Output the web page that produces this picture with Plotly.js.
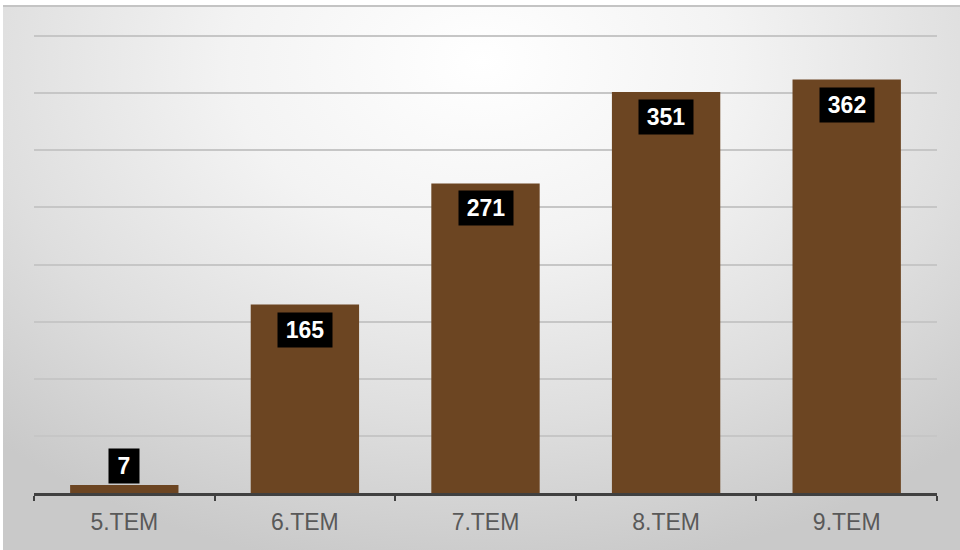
<!DOCTYPE html>
<html>
<head>
<meta charset="utf-8">
<script src="https://cdn.plot.ly/plotly-3.0.1.min.js"></script>
<style>
  html, body { margin: 0; padding: 0; background: #ffffff; }
  #wrap { position: relative; width: 960px; height: 550px; overflow: hidden; background: #ffffff; }
  #bg { position: absolute; left: 3px; top: 5px; right: 0; bottom: 0;
        border-top: 2px solid #c4c4c4;
        background: radial-gradient(ellipse 75% 95% at 50% 10%, #ffffff 0%, #f3f3f3 35%, #dedede 70%, #c9c9c9 100%); }
  #chart { position: absolute; left: 0; top: 0; width: 960px; height: 550px; }
</style>
</head>
<body>
<div id="wrap">
  <div id="bg"></div>
  <div id="chart"></div>
</div>
<script>
const categories = ["5.TEM", "6.TEM", "7.TEM", "8.TEM", "9.TEM"];
const values = [7, 165, 271, 351, 362];

const barColor = "#6c4522";

const annotations = values.map(function (v, i) {
  const txt = String(v);
  const small = v < 40;
  return {
    x: categories[i],
    y: v,
    xref: "x",
    yref: "y",
    text: "<b>" + txt + "</b>",
    showarrow: false,
    font: { family: "Liberation Sans, Arial, sans-serif", size: 23, color: "#ffffff" },
    bgcolor: "#000000",
    borderpad: 3,
    width: txt.length * 13 + (txt.length === 1 ? 11 : 9),
    height: 28,
    yanchor: "middle",
    yshift: small ? 19 : -25
  };
});

const trace = {
  type: "bar",
  x: categories,
  y: values,
  marker: { color: barColor, line: { width: 0 } },
  hoverinfo: "none"
};

const layout = {
  width: 960,
  height: 550,
  margin: { l: 34, r: 23, t: 35, b: 57 },
  paper_bgcolor: "rgba(0,0,0,0)",
  plot_bgcolor: "rgba(0,0,0,0)",
  showlegend: false,
  bargap: 0.4,
  xaxis: {
    type: "category",
    tickson: "boundaries",
    ticks: "outside",
    ticklen: 5,
    tickwidth: 2,
    tickcolor: "#404040",
    showline: true,
    linecolor: "#404040",
    linewidth: 3,
    showgrid: false,
    ticklabelstandoff: 6,
    tickfont: { family: "Liberation Sans, Arial, sans-serif", size: 23, color: "#595959" },
    fixedrange: true
  },
  yaxis: {
    range: [0, 401],
    dtick: 50,
    tick0: 0,
    showticklabels: false,
    showgrid: true,
    gridcolor: "#c6c6c6",
    gridwidth: 2,
    zeroline: false,
    showline: false,
    ticks: "",
    fixedrange: true
  },
  annotations: annotations
};

Plotly.newPlot("chart", [trace], layout, { displayModeBar: false, staticPlot: true });
</script>
</body>
</html>
